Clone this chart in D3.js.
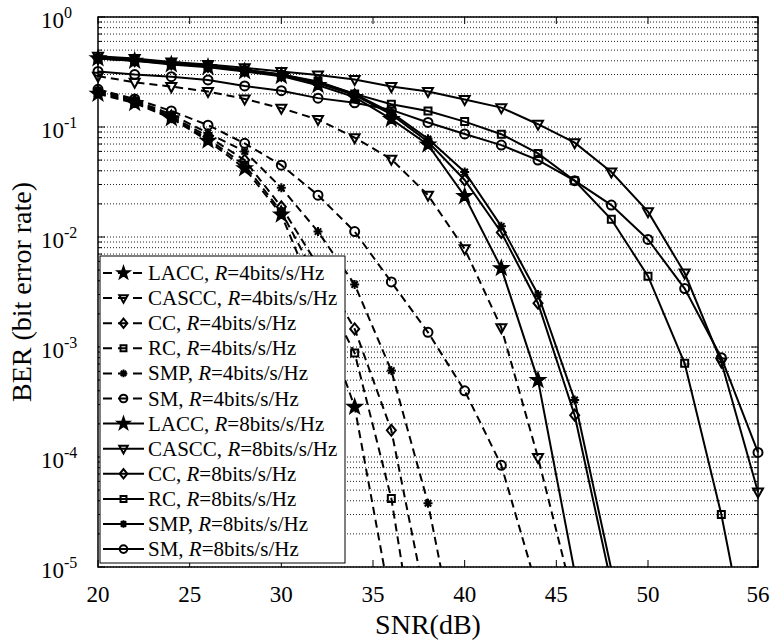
<!DOCTYPE html>
<html>
<head>
<meta charset="utf-8">
<script src="https://cdn.jsdelivr.net/npm/d3@7"></script>
<style>
  body { margin: 0; background: #fff; }
  svg { font-family: "Liberation Serif", "Times New Roman", serif; }
</style>
</head>
<body>
<svg id="chart" width="773" height="644"></svg>
<script>
// SNR points (dB)
const snr = [20, 22, 24, 26, 28, 30, 32, 34, 36, 38, 40, 42, 44, 46, 48, 50, 52, 54, 56];

// R = 4 bits/s/Hz (dashed)
const lacc4  = [0.20, 0.165, 0.12, 0.075, 0.042, 0.016, 0.0025, 2.85e-4, 4.4e-6];
const cascc4 = [0.29, 0.255, 0.233, 0.21, 0.18, 0.148, 0.117, 0.080, 0.051, 0.024, 0.0078, 0.0015, 9.9e-5, 4.6e-6];
const cc4    = [0.21, 0.172, 0.125, 0.082, 0.05, 0.0188, 0.0055, 1.46e-3, 1.75e-4, 3.8e-6];
const rc4    = [0.205, 0.168, 0.122, 0.078, 0.045, 0.017, 0.004, 8.8e-4, 4.2e-5, 3.5e-7];
const smp4   = [0.215, 0.175, 0.13, 0.088, 0.06, 0.028, 0.0112, 3.7e-3, 6.1e-4, 3.8e-5, 8e-7];
const sm4    = [0.22, 0.18, 0.14, 0.104, 0.071, 0.045, 0.024, 0.0112, 0.0039, 0.00136, 4.0e-4, 8.4e-5, 6e-6];

// R = 8 bits/s/Hz (solid)
const lacc8  = [0.42, 0.40, 0.37, 0.35, 0.32, 0.29, 0.24, 0.187, 0.118, 0.069, 0.0235, 0.0052, 5.0e-4, 9e-6];
const cascc8 = [0.44, 0.42, 0.39, 0.37, 0.345, 0.32, 0.297, 0.27, 0.233, 0.21, 0.178, 0.15, 0.106, 0.072, 0.039, 0.017, 0.0047, 7.3e-4, 4.8e-5];
const cc8    = [0.42, 0.40, 0.375, 0.355, 0.325, 0.295, 0.25, 0.195, 0.13, 0.0735, 0.033, 0.011, 0.0025, 2.4e-4, 7e-6];
const rc8    = [0.42, 0.405, 0.38, 0.36, 0.33, 0.30, 0.26, 0.20, 0.161, 0.14, 0.112, 0.086, 0.0575, 0.0325, 0.0145, 0.0044, 7.1e-4, 3.0e-5, 6e-7];
const smp8   = [0.43, 0.41, 0.38, 0.36, 0.33, 0.30, 0.255, 0.20, 0.135, 0.078, 0.039, 0.0125, 0.003, 3.3e-4, 9.5e-6];
const sm8    = [0.32, 0.30, 0.287, 0.268, 0.236, 0.214, 0.183, 0.166, 0.143, 0.11, 0.0865, 0.0685, 0.05, 0.0325, 0.0195, 0.0095, 0.0034, 8e-4, 1.1e-4];

const xTicks = [20, 25, 30, 35, 40, 45, 50, 56];
const yExponents = [0, -1, -2, -3, -4, -5];

const series = [
  {name: "LACC", rate: "4", values: lacc4, marker: "star", dashed: true},
  {name: "CASCC", rate: "4", values: cascc4, marker: "tri", dashed: true},
  {name: "CC", rate: "4", values: cc4, marker: "diamond", dashed: true},
  {name: "RC", rate: "4", values: rc4, marker: "square", dashed: true},
  {name: "SMP", rate: "4", values: smp4, marker: "asterisk", dashed: true},
  {name: "SM", rate: "4", values: sm4, marker: "circle", dashed: true},
  {name: "LACC", rate: "8", values: lacc8, marker: "star", dashed: false},
  {name: "CASCC", rate: "8", values: cascc8, marker: "tri", dashed: false},
  {name: "CC", rate: "8", values: cc8, marker: "diamond", dashed: false},
  {name: "RC", rate: "8", values: rc8, marker: "square", dashed: false},
  {name: "SMP", rate: "8", values: smp8, marker: "asterisk", dashed: false},
  {name: "SM", rate: "8", values: sm8, marker: "circle", dashed: false}
];

const pLeft = 98, pRight = 758, pTop = 17, pBottom = 567;
const dash = "8,5";
const svg = d3.select("#chart");

const x = d3.scaleLinear().domain([20, 56]).range([pLeft, pRight]);
const y = d3.scaleLog().domain([1e-5, 1]).range([pBottom, pTop]);

// horizontal dotted grid at every log step
const gridVals = [];
for (let e = -5; e < 0; e++) {
  for (let m = 1; m <= 9; m++) gridVals.push(m * Math.pow(10, e));
}
gridVals.push(1);

svg.append("g").selectAll("line").data(gridVals).join("line")
  .attr("x1", pLeft).attr("x2", pRight)
  .attr("y1", d => y(d)).attr("y2", d => y(d))
  .attr("stroke", "#222").attr("stroke-width", 1)
  .attr("stroke-dasharray", "1,2");

// minor / major ticks on y (both sides, inward)
const ticksG = svg.append("g").attr("stroke", "#000").attr("stroke-width", 1);
gridVals.forEach(v => {
  const major = Math.abs(Math.log10(v) - Math.round(Math.log10(v))) < 1e-9;
  const len = major ? 7 : 4;
  ticksG.append("line").attr("x1", pLeft).attr("x2", pLeft + len).attr("y1", y(v)).attr("y2", y(v));
  ticksG.append("line").attr("x1", pRight).attr("x2", pRight - len).attr("y1", y(v)).attr("y2", y(v));
});
xTicks.forEach(t => {
  ticksG.append("line").attr("x1", x(t)).attr("x2", x(t)).attr("y1", pBottom).attr("y2", pBottom - 7);
  ticksG.append("line").attr("x1", x(t)).attr("x2", x(t)).attr("y1", pTop).attr("y2", pTop + 7);
});

svg.append("clipPath").attr("id", "plotclip")
  .append("rect").attr("x", pLeft - 10).attr("y", pTop).attr("width", pRight - pLeft + 20).attr("height", pBottom - pTop);

// marker shapes
function markerPath(type) {
  if (type === "star") {
    const pts = [];
    for (let i = 0; i < 10; i++) {
      const r = i % 2 === 0 ? 7 : 2.8;
      const a = -Math.PI / 2 + i * Math.PI / 5;
      pts.push([r * Math.cos(a), r * Math.sin(a)]);
    }
    return "M" + pts.map(p => p.join(",")).join("L") + "Z";
  }
  if (type === "tri") return "M-5,-3.5L5,-3.5L0,5.5Z";
  if (type === "diamond") return "M0,-5.5L4.5,0L0,5.5L-4.5,0Z";
  if (type === "square") return "M-3.5,-3.5L3.5,-3.5L3.5,3.5L-3.5,3.5Z";
  if (type === "asterisk") return "M-4.5,0L4.5,0M0,-4.5L0,4.5M-3.2,-3.2L3.2,3.2M-3.2,3.2L3.2,-3.2";
  if (type === "circle") return d3.symbol(d3.symbolCircle, Math.PI * 4.5 * 4.5)();
  return "";
}

function drawMarker(g, type, cx, cy, k) {
  g.append("path")
    .attr("d", markerPath(type))
    .attr("transform", `translate(${cx},${cy}) scale(${k})`)
    .attr("fill", type === "star" ? "#000" : "none")
    .attr("stroke", "#000")
    .attr("stroke-width", 2 / k);
}

const line = d3.line().x(d => x(d[0])).y(d => y(d[1]));
const plotG = svg.append("g");

series.forEach(s => {
  const pts = s.values.map((v, i) => [snr[i], v]);
  plotG.append("path")
    .attr("clip-path", "url(#plotclip)")
    .attr("d", line(pts))
    .attr("fill", "none")
    .attr("stroke", "#000")
    .attr("stroke-width", 2)
    .attr("stroke-dasharray", s.dashed ? dash : null);
  const mg = plotG.append("g");
  pts.filter(p => p[1] >= 1e-5).forEach(p => drawMarker(mg, s.marker, x(p[0]), y(p[1]), 1));
});

// frame
svg.append("rect").attr("x", pLeft).attr("y", pTop).attr("width", pRight - pLeft).attr("height", pBottom - pTop)
  .attr("fill", "none").attr("stroke", "#000").attr("stroke-width", 1.5);

// x tick labels
svg.append("g").selectAll("text").data(xTicks).join("text")
  .attr("x", d => x(d)).attr("y", pBottom + 35)
  .attr("text-anchor", "middle").attr("font-size", 23)
  .text(d => d);

// y tick labels 10^k
const yl = svg.append("g");
yExponents.forEach(e => {
  const t = yl.append("text").attr("x", 41).attr("y", y(Math.pow(10, e)) + 11).attr("font-size", 23);
  t.append("tspan").text("10");
  t.append("tspan").attr("dy", -10).attr("font-size", 16).text(e === 0 ? "0" : "-" + Math.abs(e));
});

// axis titles
svg.append("text").attr("x", (pLeft + pRight) / 2).attr("y", 634)
  .attr("text-anchor", "middle").attr("font-size", 28).text("SNR(dB)");
svg.append("text").attr("transform", `translate(31,${(pTop + pBottom) / 2}) rotate(-90)`)
  .attr("text-anchor", "middle").attr("font-size", 28).text("BER (bit error rate)");

// legend
const lg = svg.append("g");
lg.append("rect").attr("x", 100).attr("y", 256).attr("width", 245).attr("height", 307)
  .attr("fill", "#fff").attr("stroke", "#000").attr("stroke-width", 1);
series.forEach((s, i) => {
  const ry = 273 + i * 25.1;
  lg.append("line").attr("x1", 103).attr("x2", 144).attr("y1", ry).attr("y2", ry)
    .attr("stroke", "#000").attr("stroke-width", 2)
    .attr("stroke-dasharray", s.dashed ? "9,6" : null);
  drawMarker(lg, s.marker, 123.5, ry, 0.85);
  const t = lg.append("text").attr("x", 148).attr("y", ry + 7).attr("font-size", 21);
  t.append("tspan").text(s.name + ", ");
  t.append("tspan").attr("font-style", "italic").text("R");
  t.append("tspan").text("=" + s.rate + "bits/s/Hz");
});
</script>
</body>
</html>
